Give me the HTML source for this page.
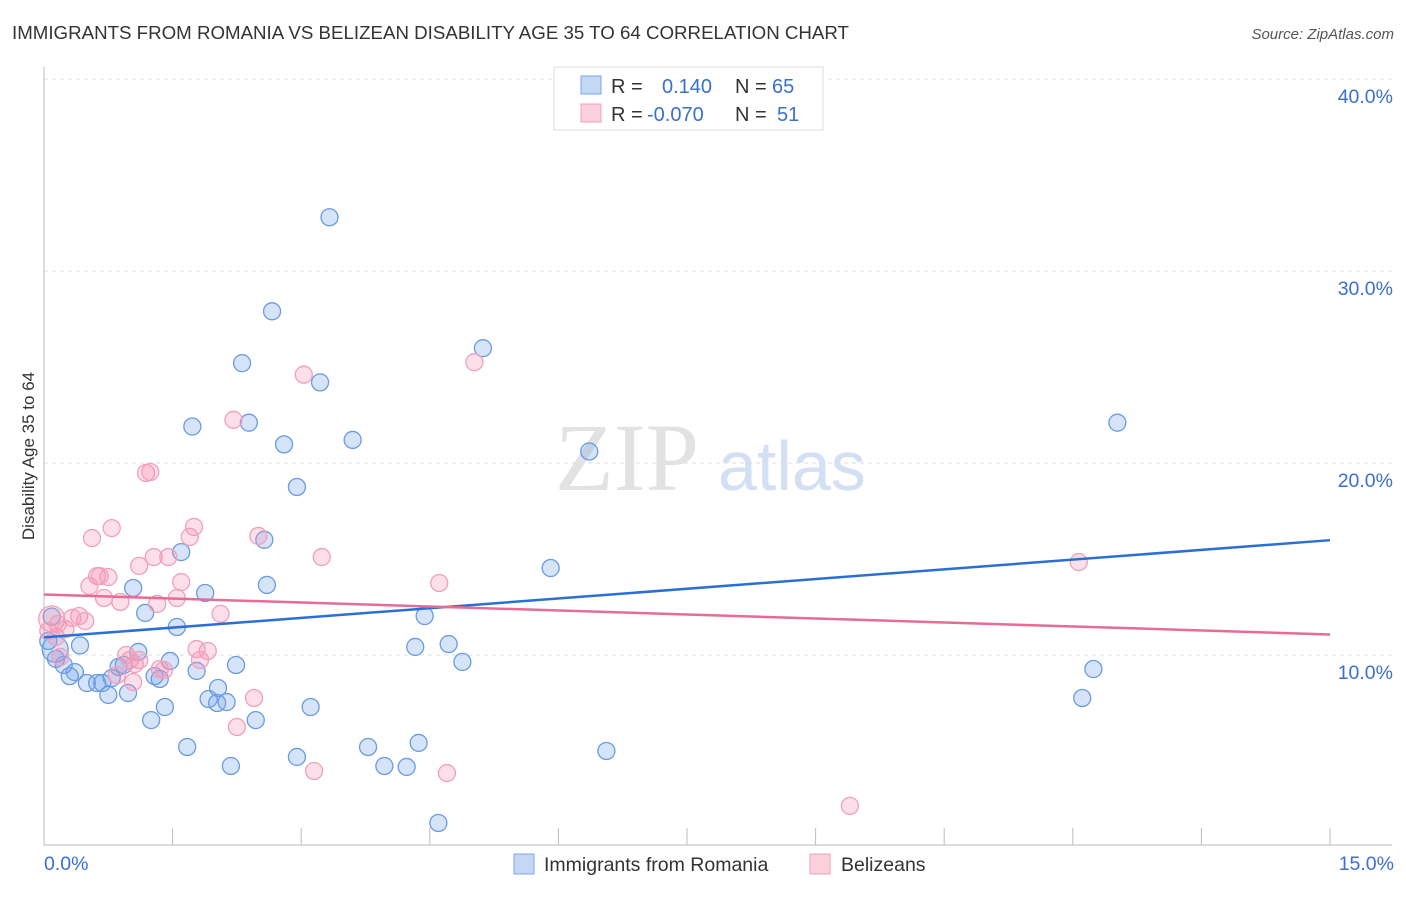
<!DOCTYPE html>
<html><head><meta charset="utf-8"><style>
body{margin:0;background:#fff;font-family:"Liberation Sans",sans-serif;}
</style></head><body>
<svg id="c" width="1406" height="892" xmlns="http://www.w3.org/2000/svg">
<text x="12" y="39" font-size="18" fill="#333" textLength="837" lengthAdjust="spacingAndGlyphs">IMMIGRANTS FROM ROMANIA VS BELIZEAN DISABILITY AGE 35 TO 64 CORRELATION CHART</text>
<text x="1394" y="39" font-size="15" fill="#555" font-style="italic" text-anchor="end">Source: ZipAtlas.com</text>
<text x="34" y="456" font-size="17" fill="#333" text-anchor="middle" transform="rotate(-90 34 456)">Disability Age 35 to 64</text>
<g id="grid"></g>
<text x="555" y="490" font-size="96" fill="#e2e2e2" font-family="Liberation Serif,serif">ZIP</text>
<text x="718" y="490" font-size="70" fill="#d3e0f3">atlas</text>
<g id="pts"></g>
<g id="lines"></g>
<g>
<rect x="554" y="67" width="269" height="63" fill="#fff" stroke="#ddd"/>
<rect x="581" y="76" width="20" height="18" fill="#c4d8f5" stroke="#7aa6e6"/>
<rect x="581" y="104" width="20" height="18" fill="#fbd0dd" stroke="#f0a0bb"/>
<text x="611" y="93" font-size="20" fill="#333">R =</text>
<text x="662" y="93" font-size="20" fill="#3a6fd0">0.140</text>
<text x="735" y="93" font-size="20" fill="#333">N =</text>
<text x="772" y="93" font-size="20" fill="#3a6fd0">65</text>
<text x="611" y="121" font-size="20" fill="#333">R =</text>
<text x="647" y="121" font-size="20" fill="#3a6fd0">-0.070</text>
<text x="735" y="121" font-size="20" fill="#333">N =</text>
<text x="777" y="121" font-size="20" fill="#3a6fd0">51</text>
</g>
<g>
<rect x="514" y="854" width="20" height="20" fill="#c4d8f5" stroke="#7aa6e6"/>
<text x="544" y="871" font-size="19.5" fill="#333">Immigrants from Romania</text>
<rect x="810" y="854" width="20" height="20" fill="#fbd0dd" stroke="#f0a0bb"/>
<text x="841" y="871" font-size="19.5" fill="#333">Belizeans</text>
</g>
</svg>
<script>
const xTicks=[0,1.5,3,4.5,6,7.5,9,10.5,12,13.5,15];
const yTicks=[10,20,30,40];
const yTickLabels=["10.0%","20.0%","30.0%","40.0%"];
const blueX=[3.33,2.66,5.12,2.31,3.22,1.73,2.39,2.80,3.60,6.36,12.52,2.95,1.60,2.57,5.91,2.60,1.04,1.88,1.18,4.44,1.55,4.33,4.72,1.10,1.47,4.88,2.24,12.24,0.14,0.23,0.36,0.30,0.79,0.50,0.62,0.68,0.87,0.93,1.29,1.35,1.78,2.03,1.92,2.02,2.13,0.98,0.75,1.41,3.11,12.11,1.25,2.47,1.67,3.78,4.37,6.56,2.95,2.18,3.97,4.23,4.60,0.42,0.13,0.05,0.09];
const blueY=[32.8,27.9,25.98,25.2,24.2,21.9,22.1,20.97,21.2,20.6,22.1,18.75,15.36,16.0,14.53,13.65,13.49,13.23,12.19,12.03,11.46,10.42,10.57,10.16,9.69,9.64,9.48,9.27,9.8,9.48,9.11,8.90,8.80,8.54,8.54,8.54,9.38,9.48,8.90,8.75,9.17,8.28,7.71,7.50,7.55,8.02,7.92,7.29,7.29,7.76,6.61,6.61,5.21,5.21,5.42,5.0,4.69,4.22,4.22,4.17,1.25,10.5,10.3,10.73,12.0];
const blueBig=[62];
const pinkX=[3.03,5.02,2.21,1.19,1.24,0.79,1.75,0.56,1.70,2.50,3.24,1.28,1.45,1.11,0.62,0.75,0.65,1.60,0.53,4.61,12.07,0.70,0.89,1.55,1.32,2.06,0.41,0.33,0.48,0.09,0.16,0.05,1.91,1.78,0.96,1.00,1.11,0.19,1.82,1.35,1.40,1.04,0.85,2.45,2.25,3.15,4.70,9.40,0.14,0.25,1.06];
const pinkY=[24.6,25.25,22.25,19.48,19.53,16.61,16.67,16.09,16.15,16.2,15.1,15.1,15.1,14.64,14.11,14.06,14.11,13.8,13.59,13.75,14.84,12.97,12.76,12.97,12.66,12.14,12.03,11.93,11.77,11.88,11.61,11.25,10.21,10.31,10.0,9.74,9.74,9.9,9.74,9.27,9.22,8.59,8.96,7.76,6.25,3.96,3.85,2.14,10.94,11.35,9.53];
const pinkBig=[29];
const blueTrend=[10.92,15.98];
const pinkTrend=[13.15,11.07];
const X0=44,X1=1330,Y0=847,YP=19.2;
const sx=v=>X0+(X1-X0)*v/15, sy=v=>Y0-v*YP;
const NS="http://www.w3.org/2000/svg";
function mk(t,a,p){const e=document.createElementNS(NS,t);for(const k in a)e.setAttribute(k,a[k]);p.appendChild(e);return e;}
const g=document.getElementById('grid');
yTicks.forEach((t,i)=>{const l=mk('line',{x1:X0,x2:1392,y1:sy(t),y2:sy(t),stroke:'#ddd','stroke-dasharray':'4 4'},g);


const tx=mk('text',{x:1393,y:sy(t)+24,'font-size':19.5,fill:'#3a6fd0','text-anchor':'end'},g);tx.textContent=yTickLabels[i];

});
const ax=mk('line',{x1:X0,x2:1392,y1:845,y2:845,stroke:'#bbb'},g);


const ay=mk('line',{x1:X0,x2:X0,y1:67,y2:845,stroke:'#bbb'},g);


xTicks.forEach(t=>{const l=mk('line',{x1:sx(t),x2:sx(t),y1:828,y2:845,stroke:'#bbb'},g);

});
const xl=mk('text',{x:44,y:870,'font-size':19.5,fill:'#3a6fd0'},g);xl.textContent='0.0%';


const xr=mk('text',{x:1394,y:870,'font-size':19.5,fill:'#3a6fd0','text-anchor':'end'},g);xr.textContent='15.0%';


const P=document.getElementById('pts');
function series(xs,ys,big,fill,stroke,name){xs.forEach((x,i)=>{const c=mk('circle',{cx:sx(x),cy:sy(ys[i]),r:big.includes(i)?13:8.5,fill:fill,stroke:stroke,'stroke-width':1.3},P);

});}
series(blueX,blueY,blueBig,'rgba(120,165,235,0.3)','#6a9be0','romania-point');
series(pinkX,pinkY,pinkBig,'rgba(245,150,180,0.3)','#f0a0bb','belizean-point');
const L=document.getElementById('lines');
const bl=mk('line',{x1:sx(0),x2:sx(15),y1:sy(blueTrend[0]),y2:sy(blueTrend[1]),stroke:'#2a6fd4','stroke-width':2.5},L);


const pl=mk('line',{x1:sx(0),x2:sx(15),y1:sy(pinkTrend[0]),y2:sy(pinkTrend[1]),stroke:'#e86a96','stroke-width':2.5},L);


</script>
</body></html>
